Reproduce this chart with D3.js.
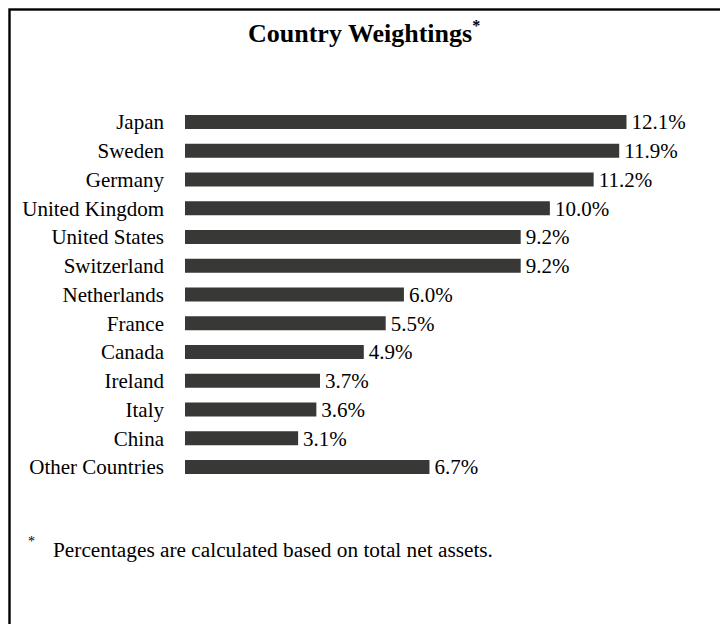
<!DOCTYPE html>
<meta charset="utf-8">
<title>Country Weightings</title>
<style>
  body { margin: 0; background: #fff; }
  svg text { font-family: "Liberation Serif", "Times New Roman", Times, serif; fill: #000; }
</style>
<body>
<div id="chart"></div>
<script src="https://cdn.jsdelivr.net/npm/d3@7"></script>
<script>
  // country weightings
  var countries = ["Japan", "Sweden", "Germany", "United Kingdom", "United States",
                   "Switzerland", "Netherlands", "France", "Canada", "Ireland",
                   "Italy", "China", "Other Countries"];
  var weights = [12.1, 11.9, 11.2, 10.0, 9.2, 9.2, 6.0, 5.5, 4.9, 3.7, 3.6, 3.1, 6.7];
  var labels = ["12.1%", "11.9%", "11.2%", "10.0%", "9.2%", "9.2%", "6.0%", "5.5%",
                "4.9%", "3.7%", "3.6%", "3.1%", "6.7%"];

  var width = 720, height = 624;

  var svg = d3.select("#chart").append("svg")
      .attr("width", width)
      .attr("height", height)
      .attr("font-family", "Liberation Serif, serif");

  // bottom edge of the heading above, cut off by the crop
  svg.append("text")
      .attr("x", 40)
      .attr("y", 0)
      .style("font-size", "20px")
      .style("font-weight", "bold")
      .style("fill", "#d4d4d4")
      .text("What did the Fund invest in?");

  // frame (only top and left edges are inside the picture)
  svg.append("rect")
      .attr("x", 9.5)
      .attr("y", 9.5)
      .attr("width", 760)
      .attr("height", 700)
      .attr("fill", "none")
      .attr("stroke", "#000")
      .attr("stroke-width", 2.4);

  // title
  var title = svg.append("text")
      .attr("x", 248)
      .attr("y", 42)
      .style("font-size", "26px")
      .style("font-weight", "bold");
  title.append("tspan").text("Country Weightings");
  title.append("tspan")
      .attr("dy", -11)
      .style("font-size", "16px")
      .text("*");

  var x = d3.scaleLinear()
      .domain([0, 12.1])
      .range([185, 626.5]);

  var y = d3.scaleBand()
      .domain(countries)
      .range([115, 474])
      .paddingInner(0.513)
      .paddingOuter(0);

  var rows = svg.selectAll("g.row")
      .data(countries)
    .enter().append("g")
      .attr("class", "row");

  rows.append("rect")
      .attr("x", x(0))
      .attr("y", function(d) { return y(d); })
      .attr("width", function(d, i) { return x(weights[i]) - x(0); })
      .attr("height", y.bandwidth())
      .attr("fill", "#383836");

  rows.append("text")
      .attr("x", 164)
      .attr("y", function(d) { return y(d) + y.bandwidth() / 2; })
      .attr("dy", "0.35em")
      .attr("text-anchor", "end")
      .style("font-size", "21px")
      .text(function(d) { return d; });

  rows.append("text")
      .attr("x", function(d, i) { return x(weights[i]) + 5; })
      .attr("y", function(d) { return y(d) + y.bandwidth() / 2; })
      .attr("dy", "0.35em")
      .style("font-size", "21px")
      .text(function(d, i) { return labels[i]; });

  // footnote
  svg.append("text")
      .attr("x", 28)
      .attr("y", 546)
      .style("font-size", "14px")
      .text("*");

  svg.append("text")
      .attr("x", 53)
      .attr("y", 557)
      .style("font-size", "21.3px")
      .text("Percentages are calculated based on total net assets.");
</script>
</body>
